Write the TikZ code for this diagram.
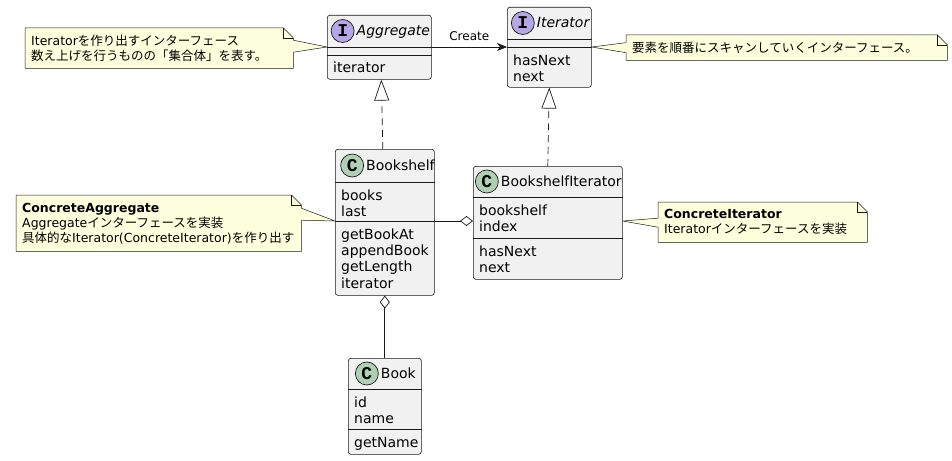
\documentclass[tikz,border=0pt]{standalone}
\usepackage{fontspec}
\setmainfont{DejaVu Sans}
\newfontfamily\jp{Noto Sans CJK JP}
\newfontfamily\iconfont{Liberation Mono}
\usepackage{tikz}
\usetikzlibrary{arrows.meta, positioning, backgrounds}
\definecolor{umlline}{HTML}{181818}
\definecolor{umlfill}{HTML}{F1F1F1}
\definecolor{umlnote}{HTML}{FEFFDD}
\definecolor{umliface}{HTML}{B4A7E5}
\definecolor{umlclass}{HTML}{ADD1B2}

\tikzset{
  classbox/.style={draw=umlline, fill=umlfill, line width=0.6pt, rounded corners=2.5pt,
                   anchor=north west, inner sep=0pt},
  divider/.style={draw=umlline, line width=0.6pt},
  member/.style={anchor=base west, inner sep=0pt, font=\fontsize{14}{16.4}\selectfont},
  classname/.style={anchor=west, inner sep=0pt, text height=11pt, text depth=2pt,
                    font=\fontsize{14}{16.4}\selectfont},
  stereo/.style={circle, draw=umlline, line width=0.7pt, minimum size=23pt, inner sep=0pt,
                 font=\iconfont\bfseries\fontsize{18}{18}\selectfont},
  notebox/.style={anchor=north west, align=left, inner xsep=6pt, inner ysep=0pt,
                  font=\fontsize{12.5}{15}\selectfont},
  noteline/.style={draw=umlline, fill=umlnote, line width=0.5pt},
  wedge/.style={draw=umlline, line width=0.5pt},
  assoc/.style={draw=umlline, line width=0.8pt, -{Stealth[length=10pt, width=8pt, inset=3pt]}},
  realize/.style={draw=umlline, line width=0.7pt, dash pattern=on 7pt off 5pt,
                  -{Triangle[open, length=21pt, width=15pt]}},
  aggr/.style={draw=umlline, line width=0.7pt, -{Diamond[open, length=13pt, width=10pt]}}
}

\begin{document}
\begin{tikzpicture}[x=1pt, y=-1pt]
  \useasboundingbox (0,0) rectangle (952,460);

  % interface Aggregate
  \node[classbox, minimum width=104pt, minimum height=64pt] (agg) at (327,15) {};
  \draw[divider] (agg.west |- 0,47) -- (agg.east |- 0,47);
  \draw[divider] (agg.west |- 0,55) -- (agg.east |- 0,55);
  \node[classname] (agg-name) at (356.5,31) {\itshape Aggregate};
  \node[stereo, fill=umliface, left=2pt of agg-name] (agg-icon) {I};
  \node[member] (agg-m0) at (333,73) {iterator};

  % interface Iterator
  \node[classbox, minimum width=84pt, minimum height=80pt] (itr) at (507,7) {};
  \draw[divider] (itr.west |- 0,39) -- (itr.east |- 0,39);
  \draw[divider] (itr.west |- 0,47) -- (itr.east |- 0,47);
  \node[classname] (itr-name) at (536.7,23) {\itshape Iterator};
  \node[stereo, fill=umliface, left=2pt of itr-name] (itr-icon) {I};
  \foreach \m [count=\i from 0] in {hasNext, next}
    \node[member] (itr-m\i) at (513,{65+16.4*\i}) {\m};

  % class Bookshelf
  \node[classbox, minimum width=99pt, minimum height=146pt] (shelf) at (335,149) {};
  \draw[divider] (shelf.west |- 0,182) -- (shelf.east |- 0,182);
  \draw[divider] (shelf.west |- 0,221) -- (shelf.east |- 0,221);
  \node[classname] (shelf-name) at (366,165.5) {Bookshelf};
  \node[stereo, fill=umlclass, left=2pt of shelf-name] (shelf-icon) {C};
  \foreach \m [count=\i from 0] in {books, last}
    \node[member] (shelf-f\i) at (341,{200+16.4*\i}) {\m};
  \foreach \m [count=\i from 0] in {getBookAt, appendBook, getLength, iterator}
    \node[member] (shelf-m\i) at (341,{239+16.4*\i}) {\m};

  % class BookshelfIterator
  \node[classbox, minimum width=149pt, minimum height=113pt] (shelfitr) at (473,166) {};
  \draw[divider] (shelfitr.west |- 0,197) -- (shelfitr.east |- 0,197);
  \draw[divider] (shelfitr.west |- 0,238) -- (shelfitr.east |- 0,238);
  \node[classname] (shelfitr-name) at (500.7,181.5) {BookshelfIterator};
  \node[stereo, fill=umlclass, left=2pt of shelfitr-name] (shelfitr-icon) {C};
  \foreach \m [count=\i from 0] in {bookshelf, index}
    \node[member] (shelfitr-f\i) at (479,{215+16.4*\i}) {\m};
  \foreach \m [count=\i from 0] in {hasNext, next}
    \node[member] (shelfitr-m\i) at (479,{256+16.4*\i}) {\m};

  % class Book
  \node[classbox, minimum width=73pt, minimum height=96pt] (book) at (348,358) {};
  \draw[divider] (book.west |- 0,389) -- (book.east |- 0,389);
  \draw[divider] (book.west |- 0,429) -- (book.east |- 0,429);
  \node[classname] (book-name) at (380.7,373.5) {Book};
  \node[stereo, fill=umlclass, left=2pt of book-name] (book-icon) {C};
  \foreach \m [count=\i from 0] in {id, name}
    \node[member] (book-f\i) at (354,{407+16.4*\i}) {\m};
  \node[member] (book-m0) at (354,447) {getName};

  % attachment points
  \coordinate (agg-l) at ([yshift=-32pt]agg.north west);
  \coordinate (agg-r) at ([yshift=-32pt]agg.north east);
  \coordinate (itr-l) at ([yshift=-40pt]itr.north west);
  \coordinate (itr-r) at ([yshift=-40pt]itr.north east);
  \coordinate (shelf-l) at ([yshift=-72pt]shelf.north west);
  \coordinate (shelf-r) at ([yshift=-72pt]shelf.north east);
  \coordinate (shelfitr-l) at ([yshift=-55pt]shelfitr.north west);
  \coordinate (shelfitr-r) at ([yshift=-55pt]shelfitr.north east);

  % relations
  \draw[assoc] (agg-r) -- node[above=6pt, inner sep=0pt, font=\fontsize{12}{14}\selectfont]
      (create-lbl) {Create} (itr-l);
  \draw[realize] ([xshift=-2pt]shelf.north) -- ([xshift=2pt]agg.south);
  \draw[realize] (shelfitr.north) -- (itr.south);
  \draw[aggr] (shelf-r) -- (shelfitr-l);
  \draw[aggr] (book.north) -- (shelf.south);

  % notes
  \node[notebox, text width=256pt, minimum height=40pt] (note-agg) at (25,28)
      {Iterator{\jp を作り出すインターフェース}\\{\jp 数え上げを行うものの「集合体」を表す。}};
  \node[notebox, text width=309pt, minimum height=25pt] (note-itr) at (626,35)
      {{\jp 要素を順番にスキャンしていくインターフェース。}};
  \node[notebox, text width=273pt, minimum height=56pt] (note-shelf) at (16,195)
      {\textbf{ConcreteAggregate}\\Aggregate{\jp インターフェースを実装}\\
       {\jp 具体的な}Iterator(ConcreteIterator){\jp を作り出す}};
  \node[notebox, text width=197pt, minimum height=40pt] (note-shelfitr) at (658,202)
      {\textbf{ConcreteIterator}\\Iterator{\jp インターフェースを実装}};

  \begin{scope}[on background layer]
    \foreach \n in {note-agg, note-itr, note-shelf, note-shelfitr} {
      \path[noteline] (\n.north west) -- ([xshift=-10pt]\n.north east)
        -- ([yshift=-10pt]\n.north east) -- (\n.south east) -- (\n.south west) -- cycle;
      \draw[wedge] ([xshift=-10pt]\n.north east) |- ([yshift=-10pt]\n.north east);
    }
    % note pointers
    \foreach \n/\s/\a/\b/\t in {note-agg/-1/8/-4/agg-l, note-shelf/-1/15/3/shelf-l} {
      \fill[umlnote] ([xshift=\s pt, yshift=\a pt]\n.east) -- ([yshift=\a pt]\n.east) -- (\t)
        -- ([yshift=\b pt]\n.east) -- ([xshift=\s pt, yshift=\b pt]\n.east) -- cycle;
      \draw[wedge] ([yshift=\a pt]\n.east) -- (\t) -- ([yshift=\b pt]\n.east);
    }
    \foreach \n/\s/\a/\b/\t in {note-itr/1/5/-5/itr-r, note-shelfitr/1/4/-5/shelfitr-r} {
      \fill[umlnote] ([xshift=\s pt, yshift=\a pt]\n.west) -- ([yshift=\a pt]\n.west) -- (\t)
        -- ([yshift=\b pt]\n.west) -- ([xshift=\s pt, yshift=\b pt]\n.west) -- cycle;
      \draw[wedge] ([yshift=\a pt]\n.west) -- (\t) -- ([yshift=\b pt]\n.west);
    }
  \end{scope}
\end{tikzpicture}
\end{document}
